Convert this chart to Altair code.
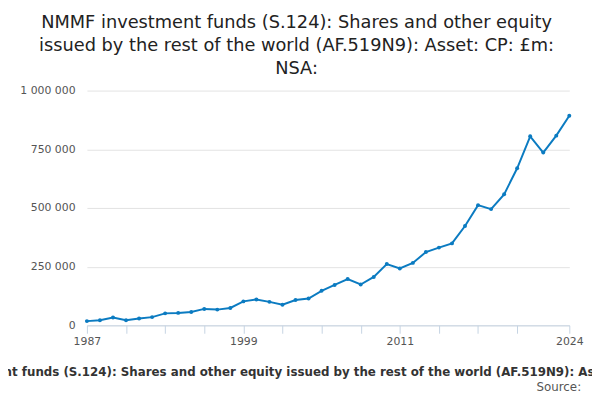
import altair as alt
import pandas as pd

years = list(range(1987, 2025))
values = [18000, 22000, 33000, 22000, 29000, 35000, 51000, 53000, 57000, 70000,
          67000, 74000, 102000, 110000, 100000, 88000, 108000, 114000, 147000, 172000,
          197000, 174000, 206000, 261000, 242000, 266000, 312000, 331000, 349000, 423000,
          512000, 495000, 558000, 669000, 805000, 736000, 808000, 893000]
tick_years = [1987, 1990, 1993, 1996, 1999, 2002, 2005, 2008, 2011, 2014, 2017, 2020, 2024]

title_lines = ["NMMF investment funds (S.124): Shares and other equity",
               "issued by the rest of the world (AF.519N9): Asset: CP: £m:",
               "NSA:"]
x_title = ("NMMF investment funds (S.124): Shares and other equity issued by the rest "
           "of the world (AF.519N9): Asset: CP: £m: NSA:")

df = pd.DataFrame({"year": years, "value": values})

W, H = 489, 238
blue = "#0b7bc1"

base = alt.Chart(df).encode(
    x=alt.X("year:Q", scale=alt.Scale(domain=[1987, 2024], nice=False, zero=False),
            axis=alt.Axis(values=tick_years, title=None, grid=False,
                          labelExpr="indexof([1987,1999,2011,2024], datum.value) >= 0 ? datum.value : ''",
                          domainColor="#c5d3e3", tickColor="#c5d3e3", tickSize=8,
                          labelColor="#555", labelFontSize=11, labelPadding=2,
                          labelFlush=False)),
    y=alt.Y("value:Q", scale=alt.Scale(domain=[0, 1000000], nice=False),
            axis=alt.Axis(values=[0, 250000, 500000, 750000, 1000000], title=None,
                          domain=False, ticks=False, gridColor="#e3e3e3",
                          labelExpr="replace(format(datum.value, ','), /,/g, ' ')",
                          labelColor="#555", labelFontSize=11, labelPadding=12)),
)
line = base.mark_line(color=blue, strokeWidth=2)
pts = base.mark_circle(color=blue, size=16, opacity=1)


def text_layer(t, y, **kw):
    return alt.Chart(pd.DataFrame({"t": [t]})).mark_text(font="DejaVu Sans", **kw).encode(
        x=alt.value(kw.pop("xpos", W / 2 - 32)) if False else alt.value(W / 2 - 32),
        y=alt.value(y), text="t:N")


titles = [
    alt.Chart(pd.DataFrame({"t": [t]})).mark_text(
        fontSize=18, color="#222", align="center", font="DejaVu Sans"
    ).encode(x=alt.value(W / 2 - 32), y=alt.value(y), text="t:N")
    for t, y in zip(title_lines, [-68, -45, -22])
]
xt = alt.Chart(pd.DataFrame({"t": [x_title]})).mark_text(
    fontSize=12, fontWeight="bold", color="#333", align="center", font="DejaVu Sans"
).encode(x=alt.value(W / 2 - 24), y=alt.value(H + 47), text="t:N")
src = alt.Chart(pd.DataFrame({"t": ["Source:"]})).mark_text(
    fontSize=12, color="#555", align="right", font="DejaVu Sans"
).encode(x=alt.value(W + 12), y=alt.value(H + 63), text="t:N")

chart = alt.layer(line, pts, *titles, xt, src).properties(
    width=W, height=H,
    autosize=alt.AutoSizeParams(type="none"),
    padding={"left": 80, "top": 81, "right": 23, "bottom": 73},
).configure_view(stroke=None).configure_axis(labelFont="DejaVu Sans")

chart.save("out.html", embed_options={"renderer": "svg", "actions": False})
